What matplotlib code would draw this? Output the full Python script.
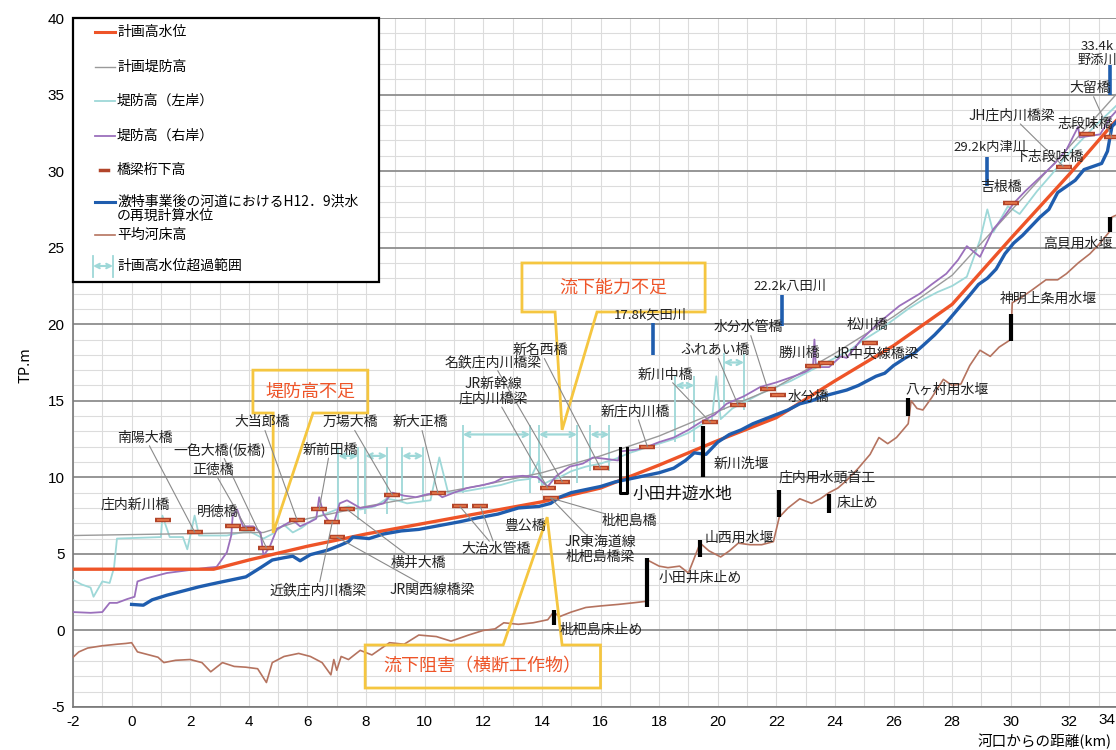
import matplotlib
matplotlib.use('Agg')
import matplotlib.pyplot as plt
from matplotlib.patches import Rectangle, Polygon
from matplotlib.lines import Line2D

plt.rcParams['font.family'] = ['Noto Sans CJK JP', 'DejaVu Sans']
plt.rcParams['axes.unicode_minus'] = False

# 計画高水位
hwl_km = [-2, 2.8, 4, 6, 8, 10, 12, 14, 16, 18, 20, 22, 24, 26, 28, 30, 32, 33.4, 34.2]
hwl = [4.0, 4.0, 4.6, 5.5, 6.3, 7.0, 7.7, 8.4, 9.3, 10.8, 12.4, 13.9, 16.3, 18.6, 21.3, 25.6, 29.8, 32.9, 34.5]

# 計画堤防高
dike_km = [-2, 4.5, 6, 8, 10, 12, 14, 16, 18, 20, 22, 24, 26, 28, 30, 32, 34.2]
dike = [6.2, 6.4, 7.3, 8.1, 8.8, 9.5, 10.3, 11.4, 12.7, 14.3, 15.9, 18.1, 20.5, 23.2, 27.4, 31.6, 36.3]

# 堤防高（左岸）
left_km = [-2, -1.7, -1.4, -1.3, -1.0, -0.75, -0.6, -0.5, 1.0, 1.05, 1.3, 1.75, 1.9, 2.15, 2.3,
           3.25, 3.5, 4.0, 4.5, 4.8, 5.2, 5.5, 5.8, 6.3, 6.6, 7.0, 7.4, 7.8, 8.3, 8.7, 9.05, 9.4,
           9.8, 10.2, 10.5, 10.8, 11.4, 12.0, 12.6, 13.15, 13.6, 13.9, 14.0, 14.3, 14.6, 15.0,
           15.5, 16.0, 16.5, 17.0, 17.5, 18.0, 18.5, 19.0, 19.5, 19.8, 19.95, 20.1, 20.5, 21.0,
           21.5, 22.0, 22.5, 23.0, 23.5, 24.0, 24.5, 25.0, 25.5, 26.0, 26.5, 27.0, 27.5, 28.0,
           28.5, 28.95, 29.2, 29.4, 29.9, 30.3, 30.9, 31.4, 31.9, 32.4, 32.9, 33.4, 34.2]
left_h = [3.3, 3.0, 2.8, 2.2, 3.2, 3.1, 4.1, 6.0, 6.1, 7.5, 6.1, 6.1, 5.3, 7.5, 6.2,
          6.2, 6.3, 6.5, 6.0, 6.3, 6.9, 6.4, 6.7, 7.4, 7.6, 7.9, 8.1, 7.9, 8.1, 8.6, 8.5, 8.3,
          8.4, 8.5, 11.3, 9.0, 9.1, 9.3, 9.5, 9.8, 9.9, 11.1, 9.5, 9.8, 10.0, 10.4,
          10.7, 10.9, 11.2, 11.6, 11.9, 12.2, 12.5, 12.9, 13.5, 13.7, 16.6, 13.8, 14.5, 15.0,
          15.5, 15.9, 16.3, 16.8, 17.3, 17.8, 18.3, 19.0, 19.6, 20.3, 21.0, 21.6, 22.1, 22.5,
          23.1, 25.5, 27.5, 26.0, 27.7, 27.2, 28.7, 29.8, 31.0, 32.0, 33.0, 33.9, 35.4]

# 堤防高（右岸）
right_km = [-2, -1.4, -1.0, -0.75, -0.5, -0.15, 0.1, 0.2, 0.5, 1.2, 2.0, 2.6, 2.9, 3.25, 3.4,
            3.45, 3.6, 3.8, 4.15, 4.4, 4.5, 4.7, 4.95, 5.5, 5.75, 6.1, 6.3, 6.4, 6.55, 6.7, 6.9,
            7.1, 7.35, 7.8, 8.2, 8.6, 8.9, 9.3, 9.7, 10.1, 10.4, 10.6, 11.0, 11.45, 12.0, 12.4,
            12.7, 13.35, 13.85, 14.2, 14.5, 14.95, 15.4, 15.75, 16.2, 16.6, 16.7, 17.2, 17.6,
            18.0, 18.5, 19.0, 19.5, 19.9, 20.3, 20.9, 21.45, 22.0, 22.6, 23.0, 23.25, 23.3,
            23.35, 23.8, 24.2, 24.4, 24.9, 25.5, 26.2, 26.9, 27.3, 27.8, 28.2, 28.5, 28.95,
            29.4, 29.8, 30.1, 30.5, 31.0, 31.5, 31.9, 32.3, 32.35, 32.7, 33.05, 33.4, 34.2]
right_h = [1.2, 1.15, 1.2, 1.8, 1.8, 2.05, 2.2, 3.2, 3.4, 3.75, 3.95, 4.1, 4.15, 5.1, 6.2,
           7.5, 7.9, 6.8, 6.8, 6.4, 4.9, 5.4, 6.6, 7.2, 6.8, 7.1, 7.3, 8.7, 7.6, 7.2, 7.0,
           8.3, 8.5, 8.0, 8.1, 8.3, 9.0, 8.8, 8.7, 8.9, 9.0, 8.7, 9.0, 9.3, 9.5, 9.7,
           10.0, 10.1, 10.0, 9.4, 10.1, 10.7, 10.9, 11.3, 11.2, 11.1, 11.7, 11.8, 12.0,
           12.3, 12.6, 13.1, 13.7, 14.1, 14.8, 15.3, 15.9, 16.2, 16.6, 16.9, 17.2, 19.0,
           17.2, 17.2, 17.9, 17.8, 19.0, 20.1, 21.2, 22.0, 22.6, 23.3, 24.2, 25.1, 24.4,
           26.2, 27.1, 27.9, 28.7, 29.6, 30.5, 31.4, 32.9, 32.2, 32.3, 32.4, 33.5, 35.2]

# H12.9洪水の再現計算水位
flood_km = [0, 0.4, 0.7, 1.2, 1.7, 2.3, 2.9, 3.4, 3.9, 4.4, 4.8, 5.2, 5.5, 5.75, 6.1, 6.7,
            7.1, 7.4, 7.55, 8.1, 8.6, 9.2, 9.8, 10.5, 11.2, 11.8, 12.5, 13.2, 13.9, 14.3,
            14.6, 15.0, 15.5, 16.0, 16.5, 17.0, 17.5, 18.0, 18.5, 18.9, 19.2, 19.6, 20.0,
            20.4, 20.8, 21.2, 21.6, 22.0, 22.4, 22.8, 23.2, 23.6, 24.0, 24.4, 24.8, 25.1,
            25.4, 25.7, 26.0, 26.4, 26.7, 27.0, 27.4, 27.8, 28.2, 28.6, 28.9, 29.2, 29.5,
            29.8, 30.1, 30.4, 30.7, 31.0, 31.3, 31.6, 31.9, 32.2, 32.5, 32.8, 33.1, 33.3,
            33.45, 34.2]
flood = [1.7, 1.65, 2.0, 2.3, 2.55, 2.85, 3.1, 3.3, 3.5, 4.1, 4.6, 4.75, 4.85, 4.55, 4.95, 5.25,
         5.55, 5.8, 6.1, 6.0, 6.3, 6.5, 6.6, 6.85, 7.1, 7.35, 7.6, 8.0, 8.1, 8.3,
         8.7, 9.0, 9.2, 9.4, 9.7, 9.9, 10.1, 10.3, 10.6, 11.1, 11.6, 11.5, 12.3,
         12.8, 13.1, 13.5, 13.8, 14.1, 14.4, 14.8, 15.0, 15.3, 15.5, 15.7, 16.0, 16.3,
         16.6, 16.8, 17.3, 17.8, 18.1, 18.6, 19.3, 20.1, 21.0, 21.9, 22.6, 23.0, 23.6,
         24.6, 25.3, 25.8, 26.4, 27.0, 27.5, 28.6, 29.0, 29.4, 30.1, 30.3, 30.5, 31.3,
         32.9, 34.5]

# 平均河床高
bed_km = [-2, -1.8, -1.5, -1.0, -0.5, -0.2, 0.0, 0.2, 0.6, 0.9, 1.1, 1.5, 2.0, 2.4, 2.7, 3.1,
          3.5, 3.9, 4.3, 4.6, 4.8, 5.2, 5.7, 6.1, 6.5, 6.8, 6.9, 7.0, 7.15, 7.4, 7.8, 8.2, 8.8,
          9.3, 9.8, 10.4, 10.9, 11.5, 12.0, 12.4, 12.7, 13.2, 13.7, 14.2, 14.4, 14.6, 15.0,
          15.5, 16.0, 16.6, 17.1, 17.55, 17.6, 18.0, 18.3, 18.7, 19.0, 19.4, 19.7, 20.1, 20.4,
          20.7, 21.1, 21.5, 21.9, 22.1, 22.4, 22.8, 23.2, 23.5, 23.8, 24.1, 24.4, 24.8, 25.2,
          25.5, 25.8, 26.1, 26.5, 26.6, 26.8, 27.0, 27.3, 27.7, 28.0, 28.3, 28.6, 28.95, 29.3,
          29.6, 30.0, 30.05, 30.4, 30.7, 31.2, 31.6, 31.9, 32.3, 32.7, 33.0, 33.35, 33.45, 34.2]
bed = [-1.75, -1.4, -1.15, -1.0, -0.9, -0.85, -0.8, -1.4, -1.6, -1.75, -2.1, -1.95, -1.9, -2.1,
       -2.7, -2.1, -2.35, -2.4, -2.5, -3.4, -2.1, -1.7, -1.5, -1.7, -2.1, -2.9, -1.9, -2.6, -1.7,
       -1.9, -1.3, -1.6, -0.8, -0.9, -0.3, -0.4, -0.7, -0.3, 0.0, 0.1, 0.5, 0.4, 0.5, 0.7, 1.2,
       0.9, 1.2, 1.5, 1.6, 1.7, 1.8, 1.9, 4.6, 4.2, 4.1, 4.2, 3.75, 5.7, 5.2, 4.8, 5.2, 5.7,
       5.6, 5.6, 5.8, 7.4, 8.0, 8.6, 8.3, 8.6, 9.0, 9.3, 9.8, 10.6, 11.5, 12.6, 12.2, 12.6,
       13.5, 15.0, 14.5, 14.4, 15.2, 16.4, 16.0, 16.1, 17.3, 18.3, 17.9, 18.5, 19.0, 21.4,
       21.8, 22.2, 22.9, 22.9, 23.3, 24.0, 24.6, 25.2, 26.0, 27.0, 27.6]

# 橋梁桁下高
girder_km = [1.07, 2.16, 3.46, 3.94, 4.6, 5.65, 6.4, 6.85, 7.0, 7.35, 8.9, 10.45, 11.2, 11.9,
             14.3, 14.2, 14.7, 16.0, 17.6, 19.75, 20.7, 21.7, 22.05, 23.25, 23.7, 25.2,
             30.0, 31.8, 32.6, 33.45]
girder_h = [7.2, 6.4, 6.8, 6.6, 5.4, 7.2, 7.9, 7.1, 6.1, 7.9, 8.85, 9.0, 8.1, 8.1,
            8.65, 9.3, 9.7, 10.6, 12.0, 13.6, 14.7, 15.8, 15.4, 17.3, 17.5, 18.8,
            27.9, 30.3, 32.4, 32.2]

# 計画高水位超過範囲 (始点, 終点, 高さ, 縦線の下端)
over_start = [7.05, 7.97, 9.23, 11.3, 13.9, 15.65, 18.55, 20.2]
over_end = [7.73, 8.72, 9.95, 13.6, 15.2, 16.3, 19.2, 20.9]
over_y = [11.4, 11.4, 11.4, 12.8, 12.8, 12.8, 16.0, 17.5]
over_low = [7.2, 7.6, 8.4, 9.0, 9.6, 10.4, 12.3, 14.4]

# 橋梁名 (名称, 文字位置km, 文字位置TP, 引出先の桁下高番号)
bridge_labels = [
    ('庄内新川橋', 0.12, 8.2, []),
    ('南陽大橋', 0.46, 12.6, [1]),
    ('明徳橋', 2.95, 7.75, []),
    ('正徳橋', 2.78, 10.5, [3]),
    ('一色大橋(仮橋)', 3.02, 11.8, [4]),
    ('大当郎橋', 4.45, 13.6, [5]),
    ('新前田橋', 6.77, 11.8, [6]),
    ('万場大橋', 7.45, 13.6, [10]),
    ('新大正橋', 9.84, 13.6, [11]),
    ('横井大橋', 9.77, 4.4, [9]),
    ('近鉄庄内川橋梁', 6.36, 2.64, [7]),
    ('JR関西線橋梁', 10.25, 2.64, [8]),
    ('大治水管橋', 12.44, 5.3, [12, 13]),
    ('豊公橋', 13.43, 6.8, []),
    ('名鉄庄内川橋梁', 12.33, 17.5, [16]),
    ('JR新幹線\n庄内川橋梁', 12.33, 15.6, [15]),
    ('新名西橋', 13.94, 18.3, [17]),
    ('枇杷島橋', 17.0, 7.15, [14]),
    ('JR東海道線\n枇杷島橋梁', 15.99, 5.3, [14]),
    ('新庄内川橋', 17.2, 14.3, [18]),
    ('新川中橋', 18.2, 16.7, [19]),
    ('ふれあい橋', 19.9, 18.3, [20]),
    ('水分水管橋', 21.04, 19.8, [21]),
    ('水分橋', 23.08, 15.25, []),
    ('勝川橋', 22.8, 18.1, []),
    ('JR中央線橋梁', 25.4, 18.1, []),
    ('松川橋', 25.1, 19.95, []),
    ('吉根橋', 29.67, 28.97, []),
    ('下志段味橋', 31.3, 30.9, []),
    ('JH庄内川橋梁', 30.05, 33.6, [27]),
    ('志段味橋', 32.54, 33.1, []),
    ('大留橋', 32.7, 35.4, [29]),
]

# 横断工作物
weir_names = ['枇杷島床止め', '小田井床止め', '山西用水堰', '新川洗堰', '庄内用水頭首工', '床止め',
              '八ヶ村用水堰', '神明上条用水堰', '高貝用水堰']
weir_km = [14.4, 17.6, 19.4, 19.5, 22.1, 23.8, 26.5, 30.0, 33.4]
weir_lo = [0.35, 1.5, 4.8, 10.0, 7.4, 7.7, 14.0, 18.9, 26.0]
weir_hi = [1.35, 4.7, 5.9, 13.35, 9.2, 8.9, 15.2, 20.7, 27.0]
weir_tx = [14.62, 17.97, 19.55, 19.85, 22.06, 24.07, 26.4, 29.64, 31.1]
weir_ty = [0.0, 3.43, 6.05, 10.9, 10.0, 8.3, 15.7, 21.65, 25.3]

# 小田井遊水地
odai_km = [16.67, 16.9]
odai_lo, odai_hi = 9.0, 11.9

# 支川合流点
trib_names = ['17.8k矢田川', '22.2k八田川', '29.2k内津川', '33.4k\n野添川']
trib_km = [17.8, 22.2, 29.2, 33.4]
trib_lo = [18.0, 19.9, 29.0, 35.0]
trib_hi = [20.1, 21.9, 30.9, 36.9]
trib_tx = [17.7, 22.47, 29.3, 32.95]
trib_ty = [20.6, 22.45, 31.55, 37.7]

# 距離の目盛（34kmは図の右端にかかる）
xtick_km = list(range(-2, 33, 2))
xtick_last = 34

RED = '#EE5428'
BLUE = '#1F5DAE'
GRAY = '#9a9a9a'
CYAN = '#9ED8D8'
PURPLE = '#9B70BC'
BROWN = '#B5735F'
GIRDER = '#B2452A'
YELLOW = '#F5C640'

W, H = 1116, 750
fig = plt.figure(figsize=(W / 100, H / 100), dpi=100)
ax = fig.add_axes([73 / W, 43 / H, 1055 / W, 689 / H])
ax.set_xlim(-2, 34)
ax.set_ylim(-5, 40)
ax.set_xticks(xtick_km)
ax.set_yticks(range(-5, 41, 5))
ax.set_xticks(range(-2, 35), minor=True)
ax.set_yticks(range(-5, 41), minor=True)
ax.grid(which='minor', color='#dcdcdc', lw=0.8)
ax.grid(which='major', axis='x', color='#dcdcdc', lw=0.8)
ax.grid(which='major', axis='y', color='#8e8e8e', lw=1.3)
ax.set_axisbelow(True)
ax.tick_params(which='both', length=0)
ax.tick_params(labelsize=11, pad=6)
for lbl in ax.get_xticklabels() + ax.get_yticklabels():
    lbl.set_fontfamily(['Liberation Sans', 'DejaVu Sans'])
fig.text(1115 / W, 1 - 713 / H, str(xtick_last), ha='right', va='top', fontsize=11,
         family=['Liberation Sans', 'DejaVu Sans'])
for s in ['top', 'right']:
    ax.spines[s].set_visible(False)
for s in ['left', 'bottom']:
    ax.spines[s].set_color('#777777')
    ax.spines[s].set_linewidth(1.2)

# 各系列
ax.plot(bed_km, bed, color=BROWN, lw=1.2, zorder=3)
ax.plot(left_km, left_h, color=CYAN, lw=1.3, zorder=3)
ax.plot(dike_km, dike, color=GRAY, lw=1.0, zorder=3.2)
ax.plot(right_km, right_h, color=PURPLE, lw=1.3, zorder=3.4)
ax.plot(hwl_km, hwl, color=RED, lw=2.4, zorder=4)
ax.plot(flood_km, flood, color=BLUE, lw=2.4, zorder=4.5)

# 超過範囲の矢印
for x0, x1, y, lo in zip(over_start, over_end, over_y, over_low):
    ax.annotate('', xy=(x1, y), xytext=(x0, y),
                arrowprops=dict(arrowstyle='<->', color=CYAN, lw=1.6, mutation_scale=9,
                                shrinkA=0, shrinkB=0), zorder=3)
    ax.vlines([x0, x1], lo, y + 0.6, color=CYAN, lw=1.3, zorder=3)

# 桁下高
ax.plot(girder_km, girder_h, ls='none', marker='_', ms=11, mew=3.2, color=GIRDER, zorder=6)
ax.plot(girder_km, girder_h, ls='none', marker='_', ms=8, mew=1.2, color='#E8784A', zorder=6.1)

lab_kw = dict(fontsize=10, color='#222222', zorder=8)
lead_kw = dict(arrowstyle='-', color='#8a8a8a', lw=0.8, shrinkA=1, shrinkB=0)
for name, tx, ty, targets in bridge_labels:
    t = ax.text(tx, ty, name, ha='center', va='center', linespacing=1.05, **lab_kw)
    for idx in targets:
        ax.annotate('', xy=(girder_km[idx], girder_h[idx]), xytext=(0.5, 0.5),
                    textcoords=t, arrowprops=dict(patchA=t, **lead_kw), zorder=7.8)

# 堰・床止め
ax.vlines(weir_km, weir_lo, weir_hi, color='black', lw=3, zorder=7)
for name, tx, ty in zip(weir_names, weir_tx, weir_ty):
    ax.text(tx, ty, name, ha='left', va='center', **lab_kw)
ax.plot([odai_km[0], odai_km[0], odai_km[1], odai_km[1]],
        [odai_hi, odai_lo, odai_lo, odai_hi], color='black', lw=2.2, zorder=7)
ax.text(17.1, 8.9, '小田井遊水地', ha='left', va='center', fontsize=12, color='#111111', zorder=8)

# 支川
ax.vlines(trib_km, trib_lo, trib_hi, color=BLUE, lw=2.6, zorder=7)
for name, tx, ty in zip(trib_names, trib_tx, trib_ty):
    ax.text(tx, ty, name, ha='center', va='center', linespacing=1.1, fontsize=9.5,
            color='#222222', zorder=8)

# 吹き出し
callouts = [
    ('堤防高不足', (6.1, 15.6),
     [(4.14, 17.0), (8.06, 17.0), (8.06, 14.2), (6.19, 14.2), (4.83, 6.37), (4.83, 14.2), (4.14, 14.2)]),
    ('流下能力不足', (16.45, 22.4),
     [(13.32, 24.0), (19.57, 24.0), (19.57, 20.8), (15.88, 20.8), (14.69, 13.1), (14.45, 20.8), (13.32, 20.8)]),
    ('流下阻害（横断工作物）', (11.98, -2.35),
     [(7.97, -0.95), (12.68, -0.95), (14.18, 7.4), (14.69, -0.95), (16.0, -0.95), (16.0, -3.76), (7.97, -3.76)]),
]
for text, (cx, cy), pts in callouts:
    ax.add_patch(Polygon(pts, closed=True, fill=False, ec=YELLOW, lw=2.0, zorder=7.5))
    ax.text(cx, cy, text, ha='center', va='center', fontsize=13, color=RED, zorder=8)

# 凡例
def P(x, y):
    return (x / W, 1 - y / H)

ft = fig.transFigure
ax.add_patch(Rectangle(P(73, 282), 306 / W, 264 / H, transform=ft, fc='white', ec='black',
                       lw=1.6, zorder=10, clip_on=False))
legend_rows = [
    ('計画高水位', 32, dict(color=RED, lw=2.2)),
    ('計画堤防高', 67, dict(color=GRAY, lw=1.0)),
    ('堤防高（左岸）', 101, dict(color=CYAN, lw=1.3)),
    ('堤防高（右岸）', 136, dict(color=PURPLE, lw=1.3)),
    ('平均河床高', 235, dict(color=BROWN, lw=1.2)),
]
for text, y, kw in legend_rows:
    x0, y0 = P(95, y)
    x1, _ = P(115, y)
    ax.add_line(Line2D([x0, x1], [y0, y0], transform=ft, clip_on=False, zorder=11, **kw))
    ax.text(*P(117, y), text, transform=ft, ha='left', va='center', fontsize=10, zorder=11,
            clip_on=False)

x0, y0 = P(100, 170)
x1, _ = P(108, 170)
ax.add_line(Line2D([x0, x1], [y0, y0], transform=ft, color=GIRDER, lw=2.5, zorder=11,
                   clip_on=False))
ax.text(*P(117, 170), '橋梁桁下高', transform=ft, ha='left', va='center', fontsize=10, zorder=11)

x0, y0 = P(95, 202)
x1, _ = P(115, 202)
ax.add_line(Line2D([x0, x1], [y0, y0], transform=ft, color=BLUE, lw=2.2, zorder=11,
                   clip_on=False))
ax.text(*P(117, 209), '激特事業後の河道におけるH12．9洪水\nの再現計算水位', transform=ft,
        ha='left', va='center', fontsize=10, linespacing=1.0, zorder=11)

ax.annotate('', xy=P(113, 266), xytext=P(93, 266), xycoords=ft, textcoords=ft,
            arrowprops=dict(arrowstyle='<->', color=CYAN, lw=1.5, mutation_scale=8,
                            shrinkA=0, shrinkB=0), zorder=11, annotation_clip=False)
for xb in (93, 113):
    xa, ya = P(xb, 256)
    _, yb = P(xb, 277)
    ax.add_line(Line2D([xa, xa], [ya, yb], transform=ft, color=CYAN, lw=1.3, zorder=11,
                       clip_on=False))
ax.text(*P(117, 266), '計画高水位超過範囲', transform=ft, ha='left', va='center', fontsize=10,
        zorder=11)

# 軸ラベル
fig.text(25 / W, 1 - 365 / H, 'TP.m', rotation=90, ha='center', va='center', fontsize=10.5)
fig.text(1112 / W, 1 - 741 / H, '河口からの距離(km)', ha='right', va='center', fontsize=10.5)

fig.savefig('out.png', dpi=100)
